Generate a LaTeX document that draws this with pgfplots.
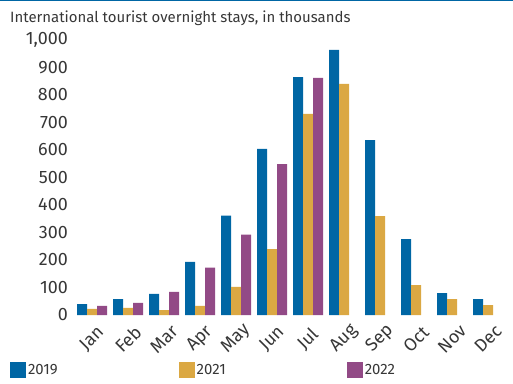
\documentclass[border=0pt]{standalone}
\usepackage{pgfplots}
\pgfplotsset{compat=1.18}
\usepackage{fontspec}
\setmainfont{Fira Sans}
\definecolor{cblue}{RGB}{0,102,164}
\definecolor{cyel}{RGB}{219,168,67}
\definecolor{cpur}{RGB}{146,74,134}
\definecolor{txt}{RGB}{55,55,55}
\begin{document}
\begin{tikzpicture}[x=1bp,y=1bp]
\path[use as bounding box] (0,0) rectangle (513,383);
\fill[cblue] (0,381.6) rectangle (513,383);
\node[anchor=base west, inner sep=0pt, text=txt, font=\fontsize{15}{18}\selectfont] at (10,361) {International tourist overnight stays, in thousands};
\begin{axis}[
  at={(74bp,68bp)}, anchor=south west,
  scale only axis, width=432bp, height=275bp,
  xmin=-0.5, xmax=11.5, ymin=0, ymax=1000,
  axis line style={draw=none},
  major tick length=0pt,
  tick style={draw=none},
  ytick={0,100,...,1000},
  xtick={0,...,11},
  xticklabels={Jan,Feb,Mar,Apr,May,Jun,Jul,Aug,Sep,Oct,Nov,Dec},
  /pgf/number format/.cd, 1000 sep={,}, assume math mode=true, /pgfplots/.cd,
  y tick label style={font=\fontsize{18}{21}\selectfont, text=txt, anchor=east, inner sep=0pt, xshift=-6bp},
  x tick label style={font=\fontsize{18}{21}\selectfont, text=txt, yshift=-24bp, rotate=45, anchor=center, inner sep=0pt},
  ybar=0pt, bar width=10bp,
  clip=false,
  legend columns=3,
  legend style={at={(axis description cs:-0.1481,-0.2)}, anchor=west, draw=none, fill=none,
    inner sep=0pt, outer sep=0pt,
    font=\fontsize{15}{18}\selectfont, text=txt,
    nodes={inner sep=0pt},
    /tikz/every odd column/.append style={column sep=2bp},
    /tikz/every even column/.append style={column sep=121bp}},
  legend image code/.code={\fill[#1] (0bp,-8bp) rectangle (16bp,8bp);},
]
\addplot[fill=cblue, draw=none] coordinates {(0,40) (1,58) (2,77) (3,193) (4,361) (5,604) (6,865) (7,964) (8,636) (9,276) (10,80) (11,58)};
\addplot[fill=cyel, draw=none] coordinates {(0,22) (1,26) (2,18) (3,33) (4,102) (5,240) (6,731) (7,840) (8,360) (9,109) (10,58) (11,36)};
\addplot[fill=cpur, draw=none] coordinates {(0,33) (1,44) (2,84) (3,172) (4,292) (5,549) (6,862)};
\legend{2019,2021,2022}
\end{axis}
\end{tikzpicture}
\end{document}
